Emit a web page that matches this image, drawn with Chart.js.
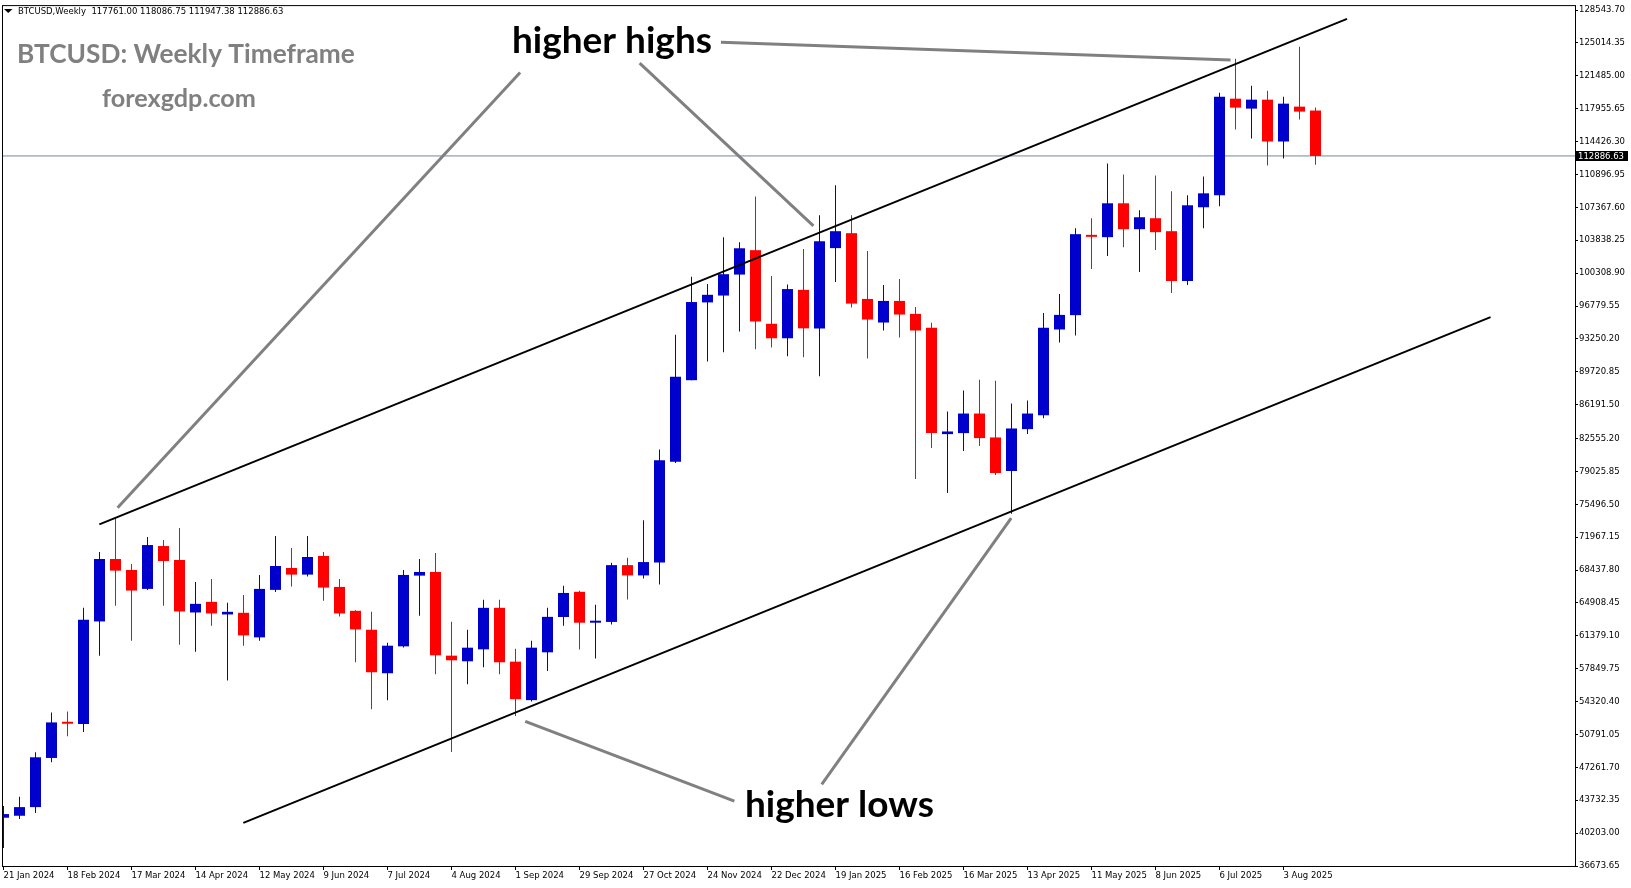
<!DOCTYPE html>
<html>
<head>
<meta charset="utf-8">
<script src="https://cdn.jsdelivr.net/npm/chart.js@4.4.1/dist/chart.umd.min.js"></script>
<style>
html,body{margin:0;padding:0;background:#fff;overflow:hidden}
canvas{display:block}
</style>
</head>
<body>
<canvas id="c" width="1631" height="888"></canvas>
<script>
// ---------- DATA ----------
const symbolHeader = 'BTCUSD,Weekly';
const titleText = 'BTCUSD: Weekly Timeframe';
const siteText = 'forexgdp.com';
const noteHighs = 'higher highs';
const noteLows = 'higher lows';

// weekly candles, 21 Jan 2024 .. 17 Aug 2025 (index = week number)
const opens = [
  41854, 42068, 42995, 48271, 52086, 51908, 62923, 69626, 68449, 66417,
  71016, 69518, 63886, 65026, 63672, 63850, 61212, 66311, 68663, 67950,
  69947, 66630, 64064, 62032, 57362, 60250, 67842, 68235, 59252, 58646,
  59929, 64385, 58609, 54475, 59608, 63403, 66103, 62788, 62870, 68968,
  67864, 69255, 80059, 88817, 97166, 97903, 100154, 102773, 94874, 93319,
  98516, 94367, 102994, 104598, 97539, 95008, 97326, 95935, 94438, 83030,
  83137, 85240, 82673, 79072, 83565, 85062, 94260, 95800, 104385, 104170,
  107806, 105025, 106203, 104812, 99465, 107379, 108662, 119036, 117967, 118929,
  114437, 118181, 117761.00
];
const highs = [
  43103, 44100, 48877, 53155, 53263, 64385, 70374, 73975, 69091, 71979,
  71657, 72941, 67165, 67486, 64920, 65775, 67914, 72085, 70801, 72085,
  70374, 67486, 64125, 63957, 60641, 68449, 69626, 70267, 62888, 62032,
  65241, 65241, 60000, 60855, 64385, 66758, 66226, 64713, 69215, 69747,
  73798, 81369, 93688, 99908, 99130, 104164, 103632, 108543, 99990, 99090,
  102895, 106523, 109732, 106523, 102673, 99036, 99678, 96683, 94973, 85454,
  87700, 88876, 88770, 86309, 86630, 96042, 98074, 105133, 106203, 112084,
  110909, 107058, 110801, 109090, 108662, 110694, 119678, 123314, 120426, 119892,
  119250, 124598, 118086.75
];
const lows = [
  38610, 41712, 42353, 47808, 50588, 51052, 59252, 64599, 60855, 66311,
  64599, 60428, 59679, 62460, 56578, 60321, 60855, 66096, 66667, 67736,
  65133, 63458, 58538, 53511, 54475, 60116, 63529, 57255, 48913, 56185,
  58003, 57255, 52763, 54330, 57598, 62461, 59924, 58943, 62584, 65285,
  67536, 66881, 79936, 88817, 90823, 91805, 94056, 92132, 92337, 91395,
  91273, 89232, 99357, 96612, 91158, 94152, 93404, 78218, 81534, 76719,
  81211, 81747, 78645, 74474, 83030, 84742, 92869, 93613, 100748, 102138,
  103101, 100427, 102780, 98181, 99036, 105133, 107486, 115721, 114758, 111871,
  112619, 116790, 111947.38
];
const closes = [
  42247, 42995, 48342, 52086, 51943, 63102, 69626, 68377, 66239, 71123,
  69412, 63993, 64812, 63779, 63958, 61426, 66417, 68877, 67950, 69839,
  66559, 63779, 62067, 57469, 60321, 67914, 68235, 59287, 58752, 60107,
  64385, 58538, 54581, 60107, 63415, 65981, 62788, 62870, 68968, 67864,
  69296, 80223, 89186, 97207, 97984, 100195, 102978, 95120, 93319, 98599,
  94383, 103742, 104812, 97040, 95329, 97326, 95864, 94152, 83137, 83314,
  85240, 82602, 78858, 83636, 85240, 94438, 95828, 104491, 104206, 107806,
  105025, 106309, 104705, 99465, 107592, 108876, 119250, 118074, 118929, 114437,
  118501, 117646, 112886.63
];

// date labels shown every 4th week
const xTickLabels = [
  '21 Jan 2024', '18 Feb 2024', '17 Mar 2024', '14 Apr 2024', '12 May 2024',
  '9 Jun 2024', '7 Jul 2024', '4 Aug 2024', '1 Sep 2024', '29 Sep 2024',
  '27 Oct 2024', '24 Nov 2024', '22 Dec 2024', '19 Jan 2025', '16 Feb 2025',
  '16 Mar 2025', '13 Apr 2025', '11 May 2025', '8 Jun 2025', '6 Jul 2025',
  '3 Aug 2025'
];
const xTickStep = 4;

// price axis labels
const yTickValues = [
  128543.70, 125014.35, 121485.00, 117955.65, 114426.30, 110896.95, 107367.60,
  103838.25, 100308.90, 96779.55, 93250.20, 89720.85, 86191.50, 82555.20,
  79025.85, 75496.50, 71967.15, 68437.80, 64908.45, 61379.10, 57849.75,
  54320.40, 50791.05, 47261.70, 43732.35, 40203.00, 36673.65
];
const currentPrice = 112886.63;

// drawn lines, as [week index, price] end points
const channelUpper = [[5.99, 73337], [83.97, 127603]];
const channelLower = [[14.99, 41305], [92.94, 95593]];
const pointerLines = [
  [[7.13, 75123], [32.29, 121849]],
  [[39.76, 122854], [50.62, 105389]],
  [[44.84, 125079], [76.69, 123186]],
  [[32.61, 52204], [45.68, 43637]],
  [[51.14, 45423], [62.98, 74011]]
];

// ---------- CHART ----------
const Y_MIN = 36673.65, Y_MAX = 128971.65;
const X_MIN = -0.03125, X_MAX = 98.21875;
const BLUE = '#0000CD', RED = '#FF0000';
const AXIS_FAMILY = 'DejaVu Sans';
const AXIS_FONT = { family: AXIS_FAMILY, size: 8.5 };

const idx = opens.map((_, i) => i);
const candleColors = idx.map(i => closes[i] >= opens[i] ? BLUE : RED);
const fmt = v => v.toFixed(2);

const toPts = seg => seg.map(([x, y]) => ({ x, y }));
const lineDs = (seg, color, width) => ({
  type: 'line', data: toPts(seg), borderColor: color, borderWidth: width,
  pointRadius: 0, fill: false, tension: 0, order: 0, borderCapStyle: 'butt'
});

const datasets = [
  lineDs(channelUpper, '#000000', 2),
  lineDs(channelLower, '#000000', 2),
  ...pointerLines.map(s => lineDs(s, '#808080', 3)),
  {
    type: 'bar', label: 'bodies',
    data: idx.map(i => ({ x: i, y: [opens[i], closes[i]] })),
    backgroundColor: candleColors, borderWidth: 0, barThickness: 11,
    minBarLength: 2, grouped: false, inflateAmount: 0, order: 1
  },
  {
    type: 'bar', label: 'wicks',
    data: idx.map(i => ({ x: i, y: [lows[i], highs[i]] })),
    backgroundColor: candleColors, borderWidth: 0, barThickness: 1,
    grouped: false, inflateAmount: 0, order: 2
  },
  {
    type: 'line', label: 'price',
    data: [{ x: X_MIN, y: currentPrice }, { x: X_MAX, y: currentPrice }],
    borderColor: '#778899', borderWidth: 1, pointRadius: 0, order: 3
  }
];

function fitText(ctx, text, x, baseline, width, color) {
  ctx.font = 'bold 100px Lato';
  const w = ctx.measureText(text).width;
  const size = 100 * width / w;
  ctx.font = 'bold ' + size.toFixed(2) + 'px Lato';
  ctx.fillStyle = color;
  ctx.textAlign = 'left';
  ctx.textBaseline = 'alphabetic';
  ctx.fillText(text, x, baseline);
}

const overlay = {
  id: 'overlay',
  afterDraw(chart) {
    const { ctx, chartArea: a, scales } = chart;
    ctx.save();
    // frame
    ctx.strokeStyle = '#000';
    ctx.lineWidth = 1;
    ctx.strokeRect(a.left - 0.5, a.top - 0.5, a.right - a.left + 1, a.bottom - a.top + 1);

    // header
    ctx.fillStyle = '#000';
    ctx.beginPath();
    ctx.moveTo(4, 9); ctx.lineTo(12.5, 9); ctx.lineTo(8.25, 13); ctx.closePath();
    ctx.fill();
    const n = opens.length - 1;
    const header = symbolHeader + '  ' + [opens[n], highs[n], lows[n], closes[n]].map(fmt).join(' ');
    ctx.font = '8.5px "' + AXIS_FAMILY + '"';
    ctx.textAlign = 'left';
    ctx.textBaseline = 'alphabetic';
    ctx.fillText(header, 18, 14);

    // watermark texts
    fitText(ctx, titleText, 17, 63, 338, '#808080');
    fitText(ctx, siteText, 102, 107, 154, '#808080');
    fitText(ctx, noteHighs, 512, 53, 200, '#000');
    fitText(ctx, noteLows, 745, 816.5, 189, '#000');

    // current price tag
    const py = scales.y.getPixelForValue(currentPrice);
    ctx.fillStyle = '#000';
    ctx.fillRect(a.right + 1, Math.round(py) - 5, 52, 10);
    ctx.fillStyle = '#fff';
    ctx.font = AXIS_FONT.size + 'px "' + AXIS_FAMILY + '"';
    ctx.textBaseline = 'middle';
    ctx.fillText(fmt(currentPrice), a.right + 3, Math.round(py) + 0.5);
    ctx.restore();
  }
};

Chart.defaults.font.family = AXIS_FAMILY;
Chart.defaults.color = '#000';

new Chart(document.getElementById('c'), {
  type: 'bar',
  data: { datasets },
  options: {
    responsive: false,
    devicePixelRatio: 1,
    animation: false,
    events: [],
    layout: { padding: { left: 3, top: 3, right: 0, bottom: 0 } },
    plugins: { legend: { display: false }, tooltip: { enabled: false } },
    scales: {
      x: {
        type: 'linear', position: 'bottom', min: X_MIN, max: X_MAX, offset: false,
        afterBuildTicks: s => { s.ticks = xTickLabels.map((_, k) => ({ value: k * xTickStep })); },
        afterFit: s => { s.height = 22; },
        border: { display: false },
        grid: { drawOnChartArea: false, drawTicks: true, tickLength: 4, color: '#000', offset: false },
        ticks: {
          autoSkip: false, maxRotation: 0, minRotation: 0, align: 'start', padding: 1,
          font: AXIS_FONT, color: '#000',
          callback: v => xTickLabels[Math.round(v / xTickStep)]
        }
      },
      y: {
        type: 'linear', position: 'right', min: Y_MIN, max: Y_MAX,
        afterBuildTicks: s => { s.ticks = yTickValues.map(v => ({ value: v })); },
        afterFit: s => { s.width = 56; },
        border: { display: false },
        grid: { drawOnChartArea: false, drawTicks: true, tickLength: 3, color: '#000' },
        ticks: {
          autoSkip: false, padding: 1, font: AXIS_FONT, color: '#000',
          callback: v => fmt(v)
        }
      }
    }
  },
  plugins: [overlay]
});
</script>
</body>
</html>
